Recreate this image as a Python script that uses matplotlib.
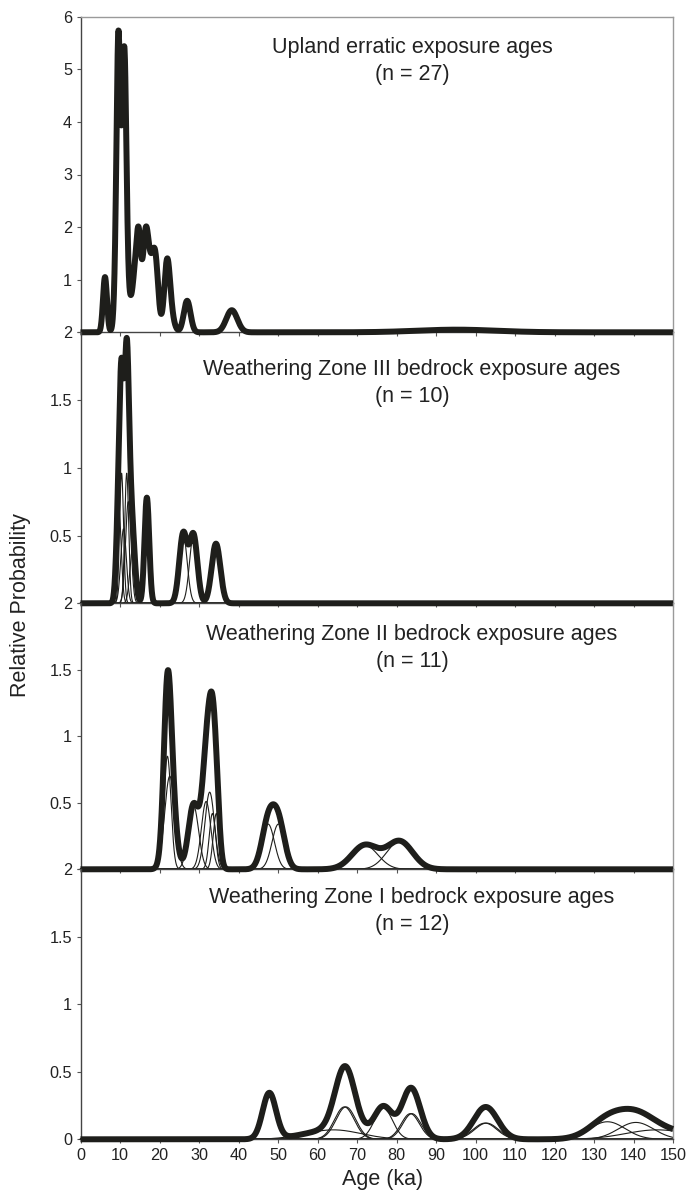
import numpy as np
import matplotlib
matplotlib.use("Agg")
import matplotlib.pyplot as plt

plt.rcParams['font.family'] = ['Liberation Sans', 'DejaVu Sans']

# ---------------- data ----------------
# Each panel: individual age probability curves given by centre age (ka),
# 1-sigma width (ka) and peak relative probability.
upland_age = [6.2, 9.2, 9.5, 9.6, 9.7, 9.8, 10.3, 10.8, 11.0, 11.15, 11.25, 11.4, 12.0,
              13.7, 14.7, 15.0, 16.3, 16.8, 17.0, 17.9, 18.4, 19.1, 21.9, 22.4, 27.0, 38.3, 95.2]
upland_err = [0.5, 0.55, 0.45, 0.4, 0.4, 0.5, 0.8, 0.5, 0.45, 0.45, 0.45, 0.5, 0.9,
              0.6, 0.55, 0.8, 0.6, 0.7, 0.7, 0.8, 0.7, 0.7, 0.7, 1.0, 0.85, 1.4, 10.0]
upland_peak = [1.05, 1.3, 1.45, 0.8, 0.75, 1.25, 0.8, 1.2, 1.3, 0.65, 0.65, 1.2, 0.6,
               0.8, 1.3, 0.5, 0.9, 0.55, 0.55, 0.5, 0.45, 1.0, 1.0, 0.45, 0.6, 0.42, 0.05]

wz3_age = [9.7, 10.4, 10.9, 11.7, 12.1, 13.2, 16.8, 26.0, 28.6, 34.3]
wz3_err = [0.6, 0.5, 0.7, 0.5, 0.7, 0.7, 0.6, 1.0, 1.0, 1.1]
wz3_peak = [0.7, 0.96, 0.55, 0.96, 0.75, 0.4, 0.78, 0.51, 0.5, 0.44]

wz2_age = [22.0, 22.6, 28.6, 31.8, 32.7, 33.4, 34.4, 47.5, 50.1, 72.0, 80.8]
wz2_err = [0.9, 1.3, 1.3, 1.2, 1.2, 0.8, 0.8, 1.6, 1.6, 3.3, 3.3]
wz2_peak = [0.85, 0.7, 0.48, 0.51, 0.58, 0.42, 0.42, 0.34, 0.34, 0.18, 0.21]

wz1_age = [47.8, 64.0, 66.8, 67.2, 76.7, 83.5, 83.9, 102.4, 102.8, 133.4, 140.6, 146.0]
wz1_err = [1.7, 7.0, 2.5, 2.5, 2.3, 2.3, 2.3, 3.0, 3.0, 4.5, 4.5, 8.0]
wz1_peak = [0.34, 0.07, 0.24, 0.24, 0.23, 0.19, 0.19, 0.12, 0.12, 0.13, 0.125, 0.07]

titles = ["Upland erratic exposure ages",
          "Weathering Zone III bedrock exposure ages",
          "Weathering Zone II bedrock exposure ages",
          "Weathering Zone I bedrock exposure ages"]
n_labels = ["(n = 27)", "(n = 10)", "(n = 11)", "(n = 12)"]

y_max = [6, 2, 2, 2]
y_ticks = [[0, 1, 2, 3, 4, 5, 6], [0, 0.5, 1, 1.5, 2], [0, 0.5, 1, 1.5, 2], [0, 0.5, 1, 1.5, 2]]
y_ticklabels = [['', '1', '2', '3', '4', '5', '6'],
                ['', '0.5', '1', '1.5', '2'],
                ['', '0.5', '1', '1.5', '2'],
                ['0', '0.5', '1', '1.5', '2']]
x_ticks = list(range(0, 151, 10))

panels = [(upland_age, upland_err, upland_peak, False),
          (wz3_age, wz3_err, wz3_peak, True),
          (wz2_age, wz2_err, wz2_peak, True),
          (wz1_age, wz1_err, wz1_peak, True)]

# ---------------- figure ----------------
W, H = 694, 1191
fig = plt.figure(figsize=(W / 100, H / 100), dpi=100)
fig.patch.set_facecolor('white')

left_px, right_px = 80.5, 673.0
tops_px = [16.7, 332.3, 603.3, 869.3]
bots_px = [332.3, 603.3, 869.3, 1139.3]
title_base_px = [53, 375, 640, 903]
title_x_px = 412

ink = '#1e1e1b'
x = np.linspace(0, 150, 3001)

for i, (ages, errs, peaks, show_thin) in enumerate(panels):
    top, bot = tops_px[i], bots_px[i]
    ax = fig.add_axes([left_px / W, 1 - bot / H, (right_px - left_px) / W, (bot - top) / H])
    ax.patch.set_alpha(0)
    ax.set_xlim(0, 150)
    ax.set_ylim(0, y_max[i])

    a = np.asarray(ages)[:, None]
    s = np.asarray(errs)[:, None]
    p = np.asarray(peaks)[:, None]
    comps = p * np.exp(-0.5 * ((x[None, :] - a) / s) ** 2)
    total = comps.sum(axis=0)

    if show_thin:
        for c in comps:
            ax.plot(x, c, color=ink, lw=0.8, clip_on=False, zorder=2)
    ax.plot(x, total, color=ink, lw=4.3, clip_on=False, zorder=3,
            solid_capstyle='butt', solid_joinstyle='round')

    ax.set_yticks(y_ticks[i])
    ax.set_yticklabels(y_ticklabels[i])
    ax.set_xticks(x_ticks)
    if i == 3:
        ax.set_xticklabels([str(t) for t in x_ticks])
    else:
        ax.set_xticklabels([])
    ax.tick_params(axis='both', direction='out', length=3, width=0.8, color='#555555',
                   labelsize=11.7, labelcolor='#222222', pad=3)

    for side in ['left', 'bottom']:
        ax.spines[side].set_color('#444444')
        ax.spines[side].set_linewidth(1.0)
    ax.spines['right'].set_color('#9a9a9a')
    ax.spines['right'].set_linewidth(1.0)
    if i == 0:
        ax.spines['top'].set_color('#9a9a9a')
        ax.spines['top'].set_linewidth(1.0)
    else:
        ax.spines['top'].set_visible(False)

    fig.text(title_x_px / W, 1 - title_base_px[i] / H, titles[i], ha='center', va='baseline',
             fontsize=15.5, color='#222222')
    fig.text(title_x_px / W, 1 - (title_base_px[i] + 27) / H, n_labels[i], ha='center',
             va='baseline', fontsize=15.5, color='#222222')

fig.text(383 / W, 1 - 1180 / H, "Age (ka)", ha='center', va='center', fontsize=15.5, color='#222222')
fig.text(21 / W, 1 - 605 / H, "Relative Probability", ha='center', va='center', rotation=90,
         fontsize=15.5, color='#222222')

fig.savefig("out.png", dpi=100, facecolor='white')
